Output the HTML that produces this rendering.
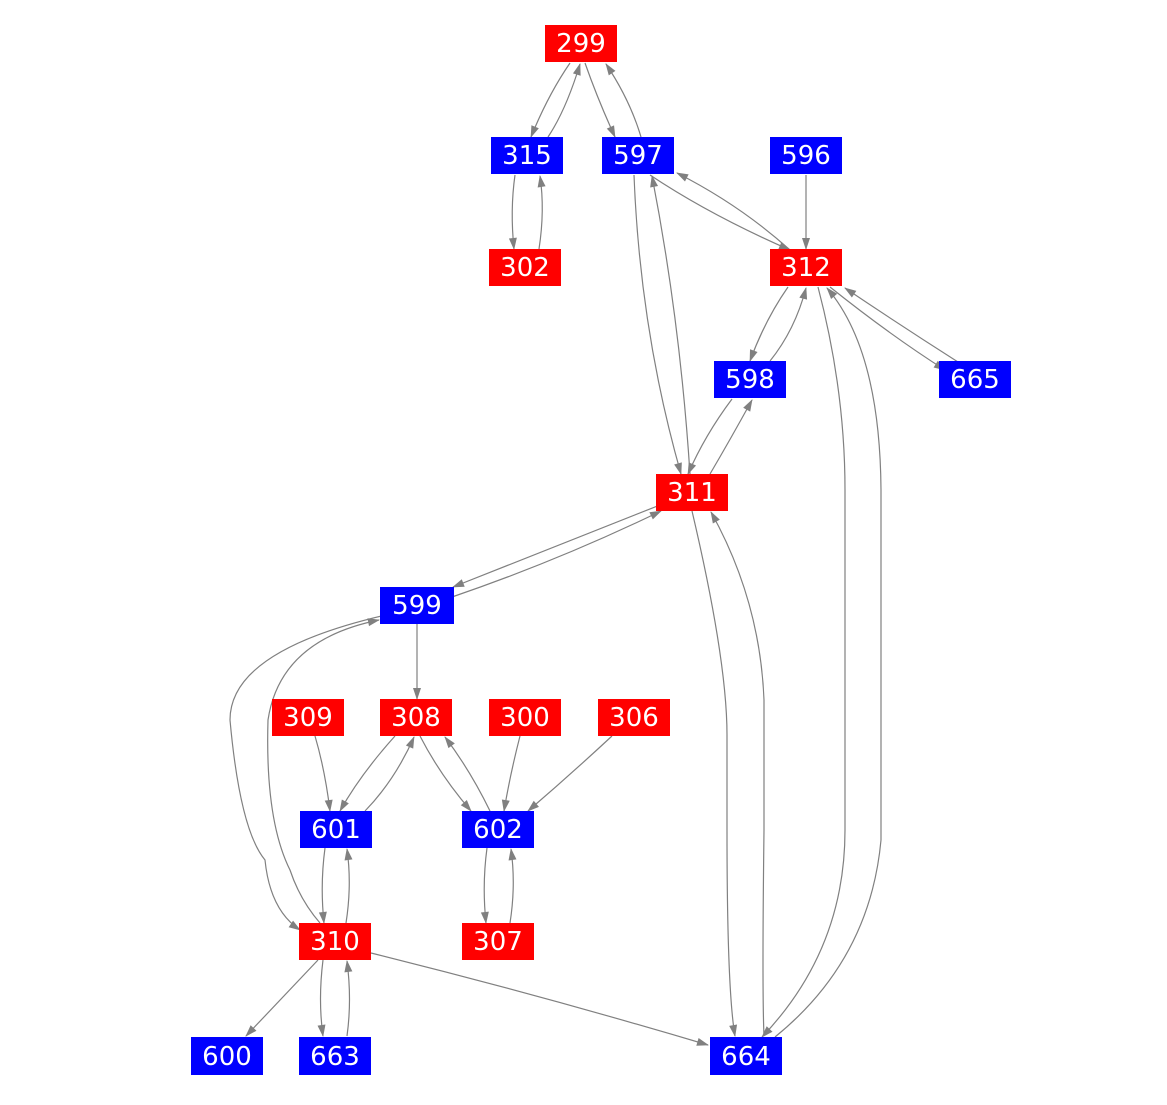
<!DOCTYPE html>
<html><head><style>
html,body{margin:0;padding:0;background:#fff;}
svg text{font-family:"DejaVu Sans","Liberation Sans",sans-serif;font-size:26px;fill:#fff;text-anchor:middle;dominant-baseline:central;}
</style></head><body>
<svg width="1167" height="1100" viewBox="0 0 1167 1100" xmlns="http://www.w3.org/2000/svg">
<defs><marker id="a" viewBox="0 0 12 10" refX="11" refY="5" markerWidth="13" markerHeight="10" markerUnits="userSpaceOnUse" orient="auto"><path d="M0,1 L12,5 L0,9 z" fill="#808080"/></marker></defs>
<g fill="none" stroke="#808080" stroke-width="1.2" marker-end="url(#a)">
<path d="M570,63 Q548,95 531,137"/>
<path d="M548,137 Q566,110 580,64"/>
<path d="M585,63 Q598,100 615,137"/>
<path d="M641,137 Q630,100 606,64"/>
<path d="M515,175 Q510,210 514,249"/>
<path d="M539,249 Q545,210 540,176"/>
<path d="M650,175 Q710,215 790,250"/>
<path d="M790,250 Q740,205 677,173"/>
<path d="M634,175 Q640,330 681,474"/>
<path d="M690,474 Q680,320 652,176"/>
<path d="M806,175 L806,249"/>
<path d="M788,287 Q765,320 750,361"/>
<path d="M770,361 Q795,330 806,288"/>
<path d="M830,287 Q890,335 945,370"/>
<path d="M958,362 Q900,325 845,288"/>
<path d="M732,399 Q705,435 688,474"/>
<path d="M710,474 Q730,440 752,400"/>
<path d="M660,505 Q560,545 453,587"/>
<path d="M452,597 Q560,560 661,511"/>
<path d="M818,287 Q845,390 845,490 L845,830 Q845,950 762,1037"/>
<path d="M775,1037 Q870,960 881,840 L881,490 Q880,350 827,288"/>
<path d="M692,511 Q727,660 727,735 L727,830 Q727,990 735,1036"/>
<path d="M764,1036 Q762,990 764,830 L764,700 Q760,600 711,512"/>
<path d="M417,624 L417,699"/>
<path d="M390,614 Q230,650 230,720 Q240,830 265,860 Q270,910 300,930"/>
<path d="M320,923 Q300,900 290,870 Q265,820 268,720 Q280,640 379,620"/>
<path d="M315,736 Q325,770 330,811"/>
<path d="M395,736 Q360,775 340,811"/>
<path d="M365,811 Q395,780 414,737"/>
<path d="M420,736 Q440,775 471,811"/>
<path d="M490,811 Q470,770 445,737"/>
<path d="M520,736 Q510,775 504,811"/>
<path d="M612,736 Q570,775 528,811"/>
<path d="M325,848 Q320,885 324,923"/>
<path d="M346,923 Q352,885 347,849"/>
<path d="M487,848 Q482,885 486,923"/>
<path d="M510,923 Q516,885 511,849"/>
<path d="M318,960 Q280,1000 246,1036"/>
<path d="M323,960 Q318,1000 323,1036"/>
<path d="M347,1036 Q352,1000 347,961"/>
<path d="M371,953 Q540,995 708,1045"/>
</g>
<g>
<rect x="545" y="25" width="72" height="37" fill="#f00"/><text x="581" y="44">299</text>
<rect x="491" y="137" width="72" height="37" fill="#00f"/><text x="527" y="156">315</text>
<rect x="602" y="137" width="72" height="37" fill="#00f"/><text x="638" y="156">597</text>
<rect x="770" y="137" width="72" height="37" fill="#00f"/><text x="806" y="156">596</text>
<rect x="489" y="249" width="72" height="37" fill="#f00"/><text x="525" y="268">302</text>
<rect x="770" y="249" width="72" height="37" fill="#f00"/><text x="806" y="268">312</text>
<rect x="714" y="361" width="72" height="37" fill="#00f"/><text x="750" y="380">598</text>
<rect x="939" y="361" width="72" height="37" fill="#00f"/><text x="975" y="380">665</text>
<rect x="656" y="474" width="72" height="37" fill="#f00"/><text x="692" y="493">311</text>
<rect x="380" y="587" width="74" height="37" fill="#00f"/><text x="417" y="606">599</text>
<rect x="272" y="699" width="72" height="37" fill="#f00"/><text x="308" y="718">309</text>
<rect x="380" y="699" width="72" height="37" fill="#f00"/><text x="416" y="718">308</text>
<rect x="489" y="699" width="72" height="37" fill="#f00"/><text x="525" y="718">300</text>
<rect x="598" y="699" width="72" height="37" fill="#f00"/><text x="634" y="718">306</text>
<rect x="300" y="811" width="72" height="37" fill="#00f"/><text x="336" y="830">601</text>
<rect x="462" y="811" width="72" height="37" fill="#00f"/><text x="498" y="830">602</text>
<rect x="299" y="923" width="72" height="37" fill="#f00"/><text x="335" y="942">310</text>
<rect x="462" y="923" width="72" height="37" fill="#f00"/><text x="498" y="942">307</text>
<rect x="191" y="1037" width="72" height="38" fill="#00f"/><text x="227" y="1057">600</text>
<rect x="299" y="1037" width="72" height="38" fill="#00f"/><text x="335" y="1057">663</text>
<rect x="710" y="1037" width="72" height="38" fill="#00f"/><text x="746" y="1057">664</text>
</g>
</svg>
</body></html>
